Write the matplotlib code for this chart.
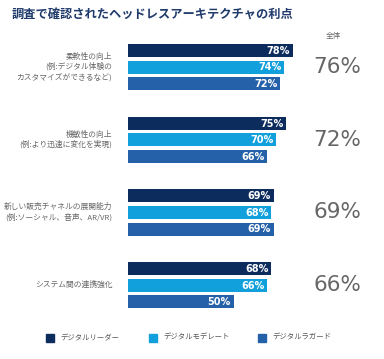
import matplotlib
matplotlib.use("Agg")
import matplotlib.pyplot as plt
from matplotlib.patches import Rectangle

plt.rcParams['font.family'] = ['Noto Sans CJK JP', 'DejaVu Sans']

# データ
categories = ["柔軟性の向上", "機敏性の向上", "新しい販売チャネルの展開能力", "システム間の連携強化"]
examples = ["(例:デジタル体験の\nカスタマイズができるなど)", "(例:より迅速に変化を実現)",
            "(例:ソーシャル、音声、AR/VR)", ""]
series_names = ["デジタルリーダー", "デジタルモデレート", "デジタルラガード"]
leader = [78, 75, 69, 68]
moderate = [74, 70, 68, 66]
laggard = [72, 66, 69, 50]
overall = [76, 72, 69, 66]

colors = ["#0c2c5e", "#11a0dc", "#2461a9"]
values = [leader, moderate, laggard]

W, H = 384, 359
fig = plt.figure(figsize=(W / 100, H / 100), dpi=100)

# バー描画用の軸 (x: 0-100%, y: ピクセル座標)
x0, x100 = 128, 339
ax = fig.add_axes([x0 / W, 0, (x100 - x0) / W, 1])
ax.set_xlim(0, 100)
ax.set_ylim(H, 0)
ax.axis('off')

group_center0 = 67
group_step = 72.7
bar_step = 16.6
bar_h = 13

for gi in range(len(categories)):
    gc = group_center0 + gi * group_step
    for si, vals in enumerate(values):
        yc = gc + (si - 1) * bar_step
        ax.barh(yc, vals[gi], height=bar_h, color=colors[si], edgecolor='none')
        ax.text(vals[gi] - 1.2, yc + 0.5, f"{vals[gi]}%", color='white', fontsize=7,
                fontweight='bold', ha='right', va='center', family=['DejaVu Sans'])
    # 左側ラベル
    lab_x = -7.5
    text = categories[gi] + ("\n" + examples[gi] if examples[gi] else "")
    ax.text(lab_x, gc, text, ha='right', va='center', fontsize=5.6, color='#666666',
            linespacing=1.3, clip_on=False)
    # 全体
    fig.text(337 / W, 1 - gc / H, f"{overall[gi]}%", ha='center', va='center',
             fontsize=15.5, color='#666666', family=['DejaVu Sans'])

fig.text(333 / W, 1 - 36 / H, "全体", ha='center', va='center', fontsize=5.5, color='#666666')

# タイトル
fig.text(12 / W, 1 - 15 / H, "調査で確認されたヘッドレスアーキテクチャの利点", ha='left', va='center',
         fontsize=8.8, fontweight='bold', color='#1f3a6b')

# 凡例
legend_x = [46, 149, 258]
for si, name in enumerate(series_names):
    fig.patches.append(Rectangle(((legend_x[si]) / W, 1 - 342 / H), 8 / W, 8 / H,
                                 transform=fig.transFigure, color=colors[si]))
    fig.text((legend_x[si] + 14) / W, 1 - 338 / H, name, ha='left', va='center',
             fontsize=5.3, color='#555555')

fig.savefig("out.png", dpi=100)
